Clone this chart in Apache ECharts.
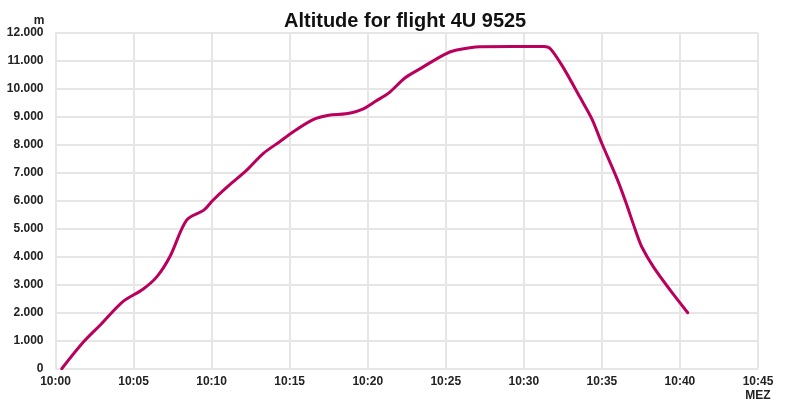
<!DOCTYPE html>
<html>
<head>
<meta charset="utf-8">
<script src="https://cdn.jsdelivr.net/npm/echarts@6/dist/echarts.min.js"></script>
<style>html,body{margin:0;padding:0;background:#fff}#c{width:785px;height:406px}</style>
</head>
<body>
<div id="c"></div>
<script>
// minutes after 10:00
var minutes = [0.4, 1.8, 2.9, 4.3, 5.6, 6.5, 7.35, 8.4, 9.5, 10.1, 11.0, 12.25, 13.3, 14.4, 15.1, 16.5, 17.5, 18.6, 19.6, 20.5, 21.4, 22.4, 23.5, 24.9, 25.7, 27.2, 31.3, 31.7, 32.5, 33.6, 34.35, 35.0, 36.0, 36.5, 37.2, 37.55, 38.3, 39.4, 40.5];
var altitude = [0, 960, 1580, 2390, 2840, 3290, 4030, 5310, 5670, 6030, 6500, 7100, 7690, 8130, 8420, 8900, 9060, 9110, 9260, 9560, 9880, 10400, 10770, 11230, 11390, 11510, 11520, 11440, 10790, 9700, 8940, 8050, 6750, 6000, 4870, 4360, 3640, 2790, 2000];
var xTickLabels = ['10:00','10:05','10:10','10:15','10:20','10:25','10:30','10:35','10:40','10:45\nMEZ'];
var yTickLabels = ['0','1.000','2.000','3.000','4.000','5.000','6.000','7.000','8.000','9.000','10.000','11.000','12.000'];

var data = minutes.map(function(m, i){ return [m, altitude[i]]; });
var chart = echarts.init(document.getElementById('c'));
var lblFont = {fontFamily: 'Liberation Sans, Arial, sans-serif', fontWeight: 'bold', fontSize: 12, color: '#222'};
chart.setOption({
  animation: false,
  backgroundColor: '#fff',
  title: {
    text: 'Altitude for flight 4U 9525',
    left: 279, top: 6,
    textStyle: {fontFamily: 'Liberation Sans, Arial, sans-serif', fontWeight: 'bold', fontSize: 20, color: '#111'}
  },
  grid: {left: 55.5, right: 27, top: 33, bottom: 37.3, containLabel: false},
  xAxis: {
    type: 'value', min: 0, max: 45, interval: 5,
    axisLine: {show: false}, axisTick: {show: false},
    splitLine: {show: true, lineStyle: {color: '#e6e6e6', width: 2}},
    axisLabel: Object.assign({margin: 6, lineHeight: 14, formatter: function(v){ return xTickLabels[Math.round(v/5)]; }}, lblFont)
  },
  yAxis: {
    type: 'value', min: 0, max: 12000, interval: 1000,
    name: 'm', nameGap: 6,
    nameTextStyle: Object.assign({align: 'right', padding: [0, 11, 0, 0]}, lblFont),
    axisLine: {show: false}, axisTick: {show: false},
    splitLine: {show: true, lineStyle: {color: '#e6e6e6', width: 2}},
    axisLabel: Object.assign({margin: 12, formatter: function(v){ return yTickLabels[Math.round(v/1000)]; }}, lblFont)
  },
  series: [{
    type: 'line', data: data, smooth: 0.3,
    showSymbol: false, symbol: 'none',
    lineStyle: {color: '#b8005c', width: 3, cap: 'round'}
  }]
});
</script>
</body>
</html>
